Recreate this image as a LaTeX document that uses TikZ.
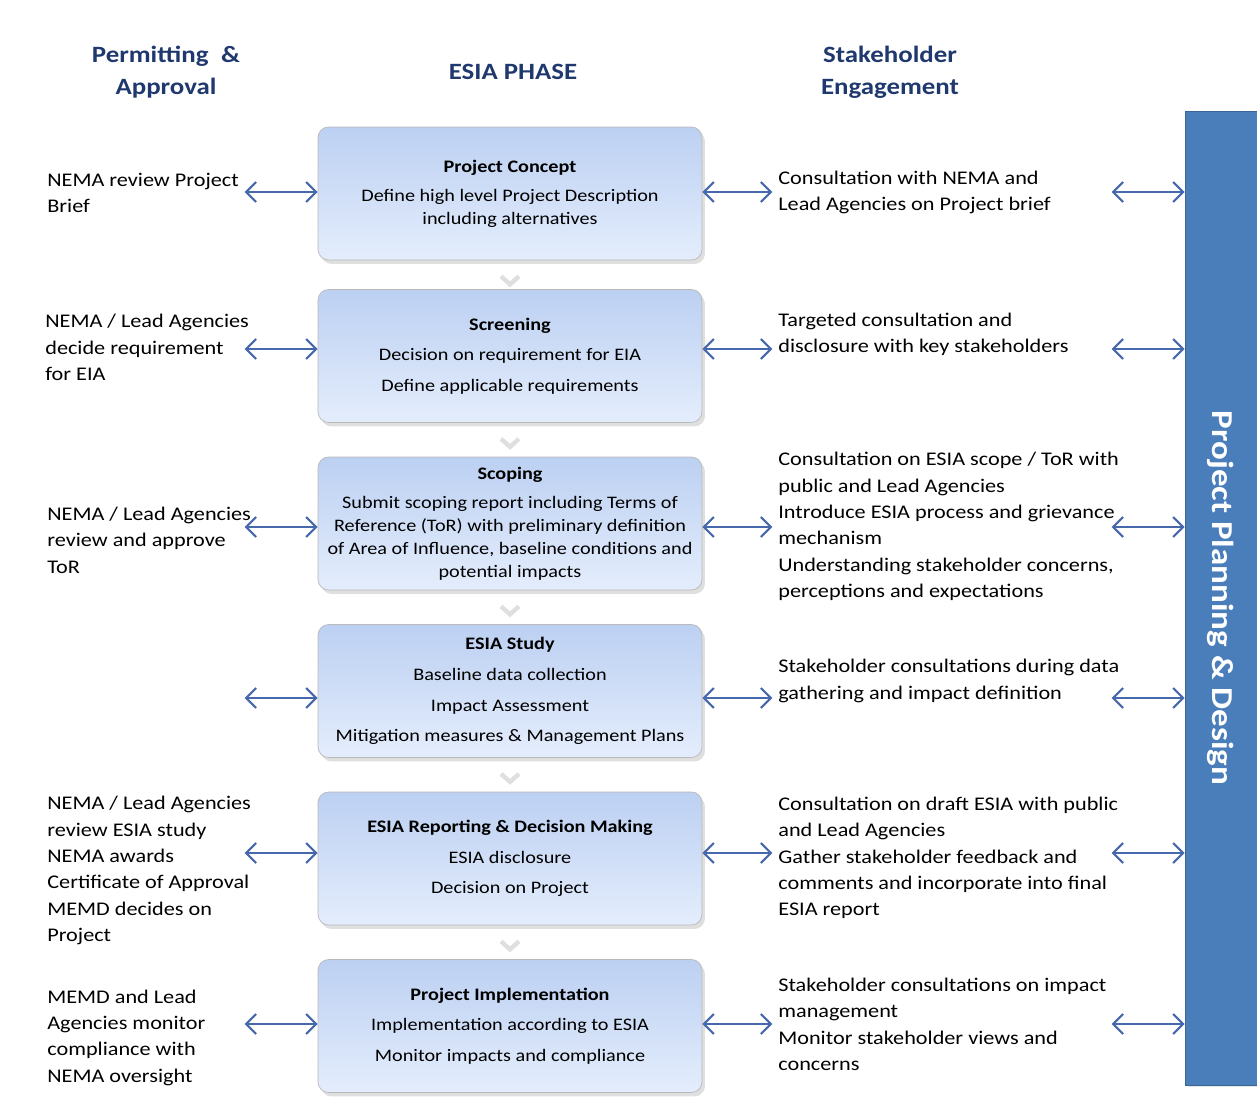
\documentclass[tikz,border=0pt]{standalone}
\usepackage{fontspec}
\setmainfont[FakeStretch=1.15]{Carlito}
\usepackage{tikz}
\usetikzlibrary{arrows.meta,shadows}
\definecolor{hdblue}{RGB}{31,56,110}
\definecolor{arblue}{RGB}{72,104,172}
\definecolor{barblue}{RGB}{74,126,187}
\definecolor{boxtop}{RGB}{188,208,242}
\definecolor{boxbot}{RGB}{228,237,252}

\begin{document}
\begin{tikzpicture}[x=0.02cm,y=-0.02cm,
  phase/.style={rounded corners=6pt,draw=gray!55,top color=boxtop,bottom color=boxbot,
    minimum width=7.68cm,minimum height=2.66cm,align=center,
    font=\fontsize{10}{13}\selectfont,
    drop shadow={opacity=0.25,shadow xshift=0.6mm,shadow yshift=-0.8mm}},
  side/.style={anchor=west,align=left,inner sep=0pt,font=\fontsize{11}{15}\selectfont},
  head/.style={align=center,text=hdblue,font=\fontsize{13.3}{18}\selectfont\bfseries},
  dbl/.style={{Straight Barb[length=2mm,width=4mm]}-{Straight Barb[length=2mm,width=4mm]},
    arblue,line width=1.2pt},
  chev/.style={gray!25,line width=2.5pt}]
\useasboundingbox (0,0) rectangle (1257,1101);

\node[head] (pa) at (166,72) {Permitting \;\&\\Approval};
\node[head] (ep) at (513,72) {ESIA PHASE};
\node[head] (se) at (890,72) {Stakeholder\\Engagement};

\node[fill=barblue,draw=barblue!80!black,minimum width=1.44cm,minimum height=19.48cm,inner sep=0pt,
  drop shadow={opacity=0.2,shadow xshift=0.5mm,shadow yshift=-0.5mm}] (bar) at (1221,598) {};
\node[rotate=-90,text=white,font=\fontsize{17.3}{20}\selectfont\bfseries] (bt) at (bar) {Project Planning \& Design};

\node[phase] (pc) at (510,193.5) {\textbf{Project Concept}\\[3.5pt]
  Define high level Project Description\\ including alternatives};
\node[phase] (sc) at (510,356) {\textbf{Screening}\\[4.5pt]
  Decision on requirement for EIA\\[4.5pt] Define applicable requirements};
\node[phase] (sp) at (510,523.5) {\textbf{Scoping}\\[3.5pt]
  Submit scoping report including Terms of\\ Reference (ToR) with preliminary definition\\
  of Area of Influence, baseline conditions and\\ potential impacts};
\node[phase] (st) at (510,691) {\textbf{ESIA Study}\\[4.5pt]
  Baseline data collection\\[4.5pt] Impact Assessment\\[4.5pt] Mitigation measures \& Management Plans};
\node[phase] (rd) at (510,858.5) {\textbf{ESIA Reporting \& Decision Making}\\[4.5pt]
  ESIA disclosure\\[4.5pt] Decision on Project};
\node[phase] (pi) at (510,1026) {\textbf{Project Implementation}\\[4.5pt]
  Implementation according to ESIA\\[4.5pt] Monitor impacts and compliance};

\node[side] (l1) at (47,193) {NEMA review Project\\Brief};
\node[side] (l2) at (45,347.5) {NEMA / Lead Agencies\\decide requirement\\for EIA};
\node[side] (l3) at (47,540) {NEMA / Lead Agencies\\review and approve\\ToR};
\node[side] (l4) at (47,870.5) {NEMA / Lead Agencies\\review ESIA study\\NEMA awards\\Certificate of Approval\\MEMD decides on\\Project};
\node[side] (l5) at (47,1037.5) {MEMD and Lead\\Agencies monitor\\compliance with\\NEMA oversight};

\node[side] (r1) at (778,192.5) {Consultation with NEMA and\\Lead Agencies on Project brief};
\node[side] (r2) at (778,334.5) {Targeted consultation and\\disclosure with key stakeholders};
\node[side] (r3) at (778,526.5) {Consultation on ESIA scope / ToR with\\public and Lead Agencies\\Introduce ESIA process and grievance\\mechanism\\Understanding stakeholder concerns,\\perceptions and expectations};
\node[side] (r4) at (778,681) {Stakeholder consultations during data\\gathering and impact definition};
\node[side] (r5) at (778,858) {Consultation on draft ESIA with public\\and Lead Agencies\\Gather stakeholder feedback and\\comments and incorporate into final\\ESIA report};
\node[side] (r6) at (778,1024.5) {Stakeholder consultations on impact\\management\\Monitor stakeholder views and\\concerns};

\foreach \a/\b in {pc/sc,sc/sp,sp/st,st/rd,rd/pi}
  \draw[chev] (\a.south) ++(-9,16) -- ++(9,8) -- ++(9,-8);

\foreach \n/\dy in {pc/0.03,sc/0.14,sp/-0.07,st/-0.14,rd/0.11,pi/0.04}{
  \draw[dbl] ([yshift=\dy cm]\n.west) -- ++(-73,0);
  \draw[dbl] ([yshift=\dy cm]\n.east) -- ++(70,0);
  \draw[dbl] ([yshift=\dy cm]bar.west |- \n.east) -- ++(-73,0);
}
\end{tikzpicture}
\end{document}
